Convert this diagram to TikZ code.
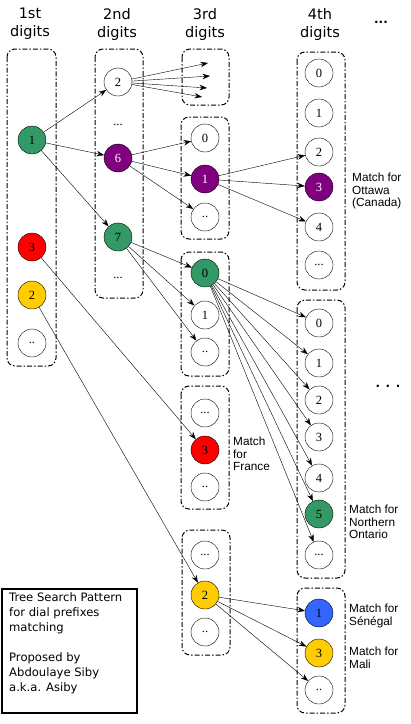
\documentclass[tikz,border=0pt]{standalone}
\usepackage{fontspec}
\setmainfont{Liberation Serif}
\newfontfamily\headfont{DejaVu Sans}
\newfontfamily\notefont{Liberation Sans}
\usetikzlibrary{arrows.meta, positioning}
\definecolor{seagreen}{HTML}{339966}
\definecolor{plum}{HTML}{800080}
\definecolor{gold}{HTML}{FFCC00}
\definecolor{royal}{HTML}{3366FF}
\tikzset{
->, % every connector is directed
>={Stealth[length=7.5pt,width=5.5pt]}, % filled arrow heads
line width=0.8pt,
dial/.style={circle, draw, fill=white, minimum size=28pt, inner sep=0pt, font=\fontsize{12.5}{12.5}\selectfont}, % one digit
hit/.style={dial, fill=#1}, % a coloured digit on a matching path
gap/.style={font=\fontsize{12.5}{12.5}\selectfont}, % skipped digits, no circle
group/.style={draw, -, line width=1pt, dash pattern=on 5pt off 2pt on 1.5pt off 2pt, rounded corners=8pt}, % dashed column box
head/.style={align=center, font=\headfont\fontsize{14.5}{18}\selectfont},
matchtext/.style={align=left, anchor=west, inner sep=0pt, font=\notefont\fontsize{11.8}{12.5}\selectfont},
}
\begin{document}
\begin{tikzpicture}[x=1pt, y=-1pt]
\useasboundingbox (0,0) rectangle (411,724);

% column headers
\node[head] (h1) at (30,24) {1st\\digits};
\node[head] (h2) at (117,24) {2nd\\digits};
\node[head] (h3) at (205,24) {3rd\\digits};
\node[head] (h4) at (320,24) {4th\\digits};
\node[head, font=\headfont\bfseries\fontsize{12}{12}\selectfont] (hmore) at (381,22) {...};

% dashed boxes
\draw[group] (7,49) rectangle (56,366);
\draw[group] (95,49) rectangle (143,298);
\draw[group] (182,49) rectangle (229,105);
\draw[group] (181,117) rectangle (229,239);
\draw[group] (181,252) rectangle (229,376);
\draw[group] (181,386) rectangle (229,509);
\draw[group] (182,530) rectangle (230,655);
\draw[group] (297,52) rectangle (345,290);
\draw[group] (297,300) rectangle (345,578);
\draw[group] (297,588) rectangle (345,713);

% 1st digits
\node[hit=seagreen] (n1) at (32,140) {1};
\node[hit=red] (n3) at (32,247) {3};
\node[hit=gold] (n2) at (32,295) {2};
\node[dial] (nx) at (32,343) {..};

% 2nd digits
\node[dial] (n12) at (118,82) {2};
\node[gap] (n1y) at (118,125) {...};
\node[hit=plum, text=white] (n16) at (118,158) {6};
\node[hit=seagreen] (n17) at (118,237) {7};
\node[gap] (n1z) at (118,278) {...};

% open ends under 12
\coordinate (f1) at (208,63);
\coordinate (f2) at (210,76);
\coordinate (f3) at (207,88);
\coordinate (f4) at (202,97);

% 3rd digits
\node[dial] (n160) at (205,138) {0};
\node[hit=plum, text=white] (n161) at (205,179) {1};
\node[dial] (n16x) at (205,217) {..};
\node[hit=seagreen] (n170) at (205,273) {0};
\node[dial] (n171) at (205,315) {1};
\node[dial] (n17x) at (205,352) {..};
\node[dial] (n3y) at (205,413) {...};
\node[hit=red] (n33) at (205,450) {3};
\node[dial] (n3x) at (205,487) {..};
\node[dial] (n2y) at (205,555) {...};
\node[hit=gold] (n22) at (205,595) {2};
\node[dial] (n2x) at (205,632) {..};

% 4th digits
\node[dial] (n1610) at (319,73) {0};
\node[dial] (n1611) at (319,113) {1};
\node[dial] (n1612) at (319,152) {2};
\node[hit=plum, text=white] (n1613) at (319,187) {3};
\node[dial] (n1614) at (319,227) {4};
\node[dial] (n161x) at (319,265) {...};
\node[dial] (n1700) at (319,323) {0};
\node[dial] (n1701) at (319,363) {1};
\node[dial] (n1702) at (319,400) {2};
\node[dial] (n1703) at (319,437) {3};
\node[dial] (n1704) at (319,478) {4};
\node[hit=seagreen] (n1705) at (319,514) {5};
\node[dial] (n170x) at (319,555) {...};
\node[hit=royal] (n221) at (319,613) {1};
\node[hit=gold] (n223) at (319,653) {3};
\node[dial] (n22x) at (319,690) {..};

% match notes
\node[matchtext] (mottawa) at (352,191) {Match for\\Ottawa\\(Canada)};
\node[matchtext] (mfrance) at (233,454) {Match\\for\\France};
\node[matchtext] (montario) at (349,522) {Match for\\Northern\\Ontario};
\node[matchtext] (msenegal) at (349,616) {Match for\\Sénégal};
\node[matchtext] (mmali) at (349,658) {Match for\\Mali};
\node[font=\headfont\bfseries\fontsize{12}{12}\selectfont] (more) at (388,386) {. . .};

% legend
\draw[-, line width=1.2pt] (2,589) rectangle (137,713);
\node[anchor=north west, align=left, inner sep=0pt, font=\headfont\fontsize{11.6}{15}\selectfont] (legend) at (9,592)
  {Tree Search Pattern\\for dial prefixes\\matching\\[15pt]Proposed by\\Abdoulaye Siby\\a.k.a. Asiby};

% connectors
\draw (n1) edge (n12) edge (n16) edge (n17)
      (n12) edge (f1) edge (f2) edge (f3) edge (f4)
      (n16) edge (n160) edge (n161) edge (n16x)
      (n17) edge (n170) edge (n171) edge (n17x)
      (n3) edge (n33)
      (n2) edge (n22)
      (n161) edge (n1612) edge (n1613) edge (n1614)
      (n170) edge (n1700) edge (n1701) edge (n1702) edge (n1703)
             edge (n1704) edge (n1705) edge (n170x)
      (n22) edge (n221) edge (n223) edge (n22x);
\end{tikzpicture}
\end{document}
